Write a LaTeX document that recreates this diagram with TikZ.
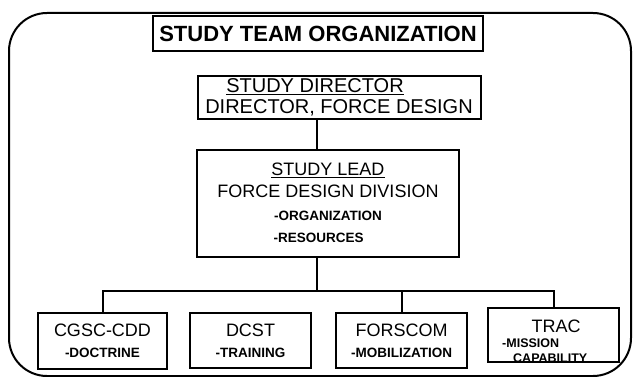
\documentclass[tikz,border=0pt]{standalone}
\usepackage{fontspec}
\setmainfont{Liberation Sans}
\usetikzlibrary{positioning}
\newcommand{\bigfnt}{\fontsize{18}{21}\selectfont}
\newcommand{\smallfnt}{\fontsize{13.5}{21}\selectfont\bfseries}
\tikzset{
  orgbox/.style={draw, line width=2pt, inner sep=0pt, align=center},
  conn/.style={line width=2pt},
  plaintxt/.style={inner sep=0pt}
}

\begin{document}
\begin{tikzpicture}[x=1pt,y=-1pt]
			\useasboundingbox (0,0) rectangle (634,377);
			%%%%% FRAME %%%%%
			\draw[line width=2pt, rounded corners=38pt] (9,13) rectangle (631,376);
			
			\node[orgbox, minimum width=330pt, minimum height=35pt, font=\fontsize{22}{24}\selectfont\bfseries] (title) at (318,33.5) {STUDY TEAM ORGANIZATION};
			
			%%%%% DIRECTOR AND LEAD %%%%%
			\node[orgbox, minimum width=283pt, minimum height=43pt, font=\fontsize{20}{20.5}\selectfont] (director) at (339,97.5) {\underline{STUDY DIRECTOR}\hspace*{48pt}\\DIRECTOR, FORCE DESIGN};
			
			\node[orgbox, minimum width=262pt, minimum height=107pt, font=\fontsize{18}{22.5}\selectfont] (lead) at (328,203) {\underline{STUDY LEAD}\\FORCE DESIGN DIVISION\\
				{\smallfnt -ORGANIZATION}\\{\smallfnt -RESOURCES\hspace*{18.7pt}}};
			
			%%%%% SUPPORTING AGENCIES %%%%%
			\node[orgbox, minimum width=129pt, minimum height=56pt, font=\bigfnt] (cgsc) at (102.5,341) {CGSC-CDD\\{\smallfnt -DOCTRINE}};
			\node[orgbox, minimum width=121pt, minimum height=55pt, font=\bigfnt] (dcst) at (250.5,340.5) {DCST\\{\smallfnt -TRAINING}};
			\node[orgbox, minimum width=131pt, minimum height=55pt, font=\bigfnt] (forscom) at (401.5,340.5) {FORSCOM\\{\smallfnt -MOBILIZATION}};
			\node[orgbox, minimum width=131pt, minimum height=54pt] (trac) at (553.5,335) {};
			\node[plaintxt, font=\bigfnt, anchor=base] (tracname) at (556,332) {TRAC};
			\node[plaintxt, font=\fontsize{12.5}{15}\selectfont\bfseries, anchor=base west] (tracmission) at (502,347) {-MISSION};
			\node[plaintxt, font=\fontsize{12.5}{15}\selectfont\bfseries, anchor=base west] (traccap) at (513,362) {CAPABILITY};
			
			%%%%% CONNECTORS %%%%%
			\coordinate (spine) at (317,291);
			\draw[conn] (director.south -| spine) -- (lead.north -| spine);
			\draw[conn] (lead.south -| spine) -- (spine);
			\draw[conn] (cgsc.north) |- (trac.north |- spine) -- (trac.north);
			\draw[conn] (forscom.north |- spine) -- (forscom.north);
		\end{tikzpicture}
\end{document}
